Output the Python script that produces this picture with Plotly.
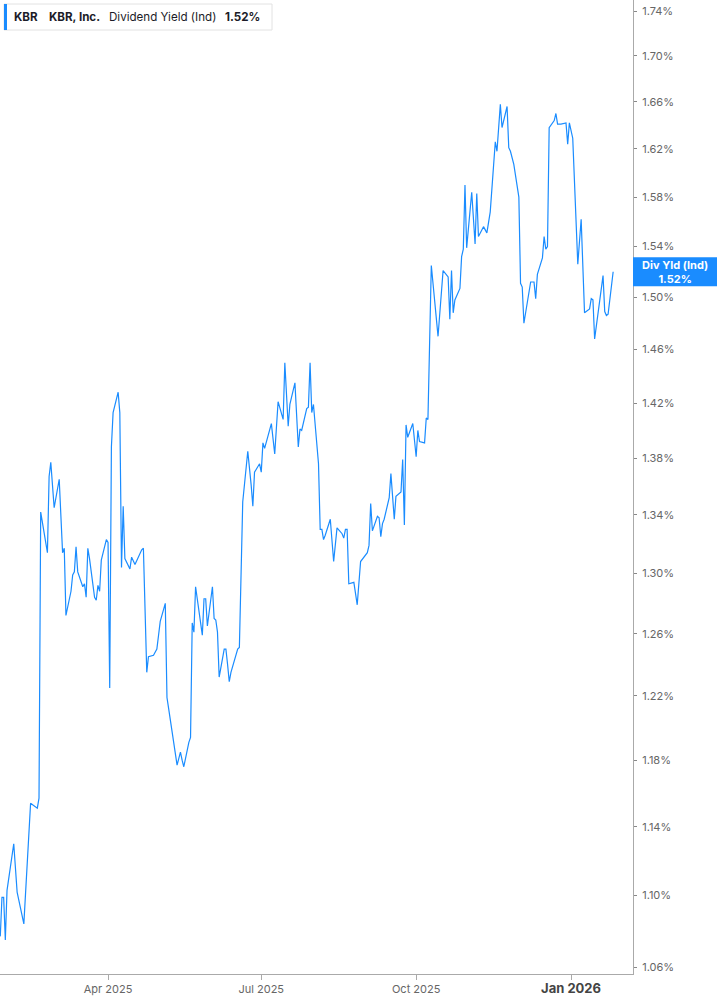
import numpy as np
import plotly.graph_objects as go

# KBR dividend yield (indicated)
dates = [
    "2025-01-27", "2025-01-28", "2025-01-29", "2025-01-30", "2025-01-31", "2025-02-04", "2025-02-06",
    "2025-02-10", "2025-02-14", "2025-02-18", "2025-02-19", "2025-02-20", "2025-02-24", "2025-02-25",
    "2025-02-26", "2025-02-28", "2025-03-03", "2025-03-05", "2025-03-06", "2025-03-07", "2025-03-10",
    "2025-03-11", "2025-03-12", "2025-03-13", "2025-03-14", "2025-03-17", "2025-03-18", "2025-03-19",
    "2025-03-20", "2025-03-21", "2025-03-24", "2025-03-25", "2025-03-26", "2025-03-27", "2025-03-28",
    "2025-03-31", "2025-04-01", "2025-04-02", "2025-04-03", "2025-04-04", "2025-04-07", "2025-04-08",
    "2025-04-09", "2025-04-10", "2025-04-11", "2025-04-14", "2025-04-15", "2025-04-17", "2025-04-21",
    "2025-04-22", "2025-04-24", "2025-04-25", "2025-04-28", "2025-04-29", "2025-04-30", "2025-05-01",
    "2025-05-02", "2025-05-05", "2025-05-06", "2025-05-07", "2025-05-08", "2025-05-09", "2025-05-12",
    "2025-05-13", "2025-05-14", "2025-05-15", "2025-05-16", "2025-05-19", "2025-05-20", "2025-05-21",
    "2025-05-22", "2025-05-23", "2025-05-27", "2025-05-28", "2025-05-29", "2025-05-30", "2025-06-02",
    "2025-06-03", "2025-06-04", "2025-06-05", "2025-06-06", "2025-06-09", "2025-06-10", "2025-06-11",
    "2025-06-12", "2025-06-13", "2025-06-16", "2025-06-17", "2025-06-18", "2025-06-20", "2025-06-23",
    "2025-06-24", "2025-06-25", "2025-06-26", "2025-06-27", "2025-06-30", "2025-07-01", "2025-07-02",
    "2025-07-03", "2025-07-07", "2025-07-08", "2025-07-09", "2025-07-11", "2025-07-14", "2025-07-15",
    "2025-07-16", "2025-07-17", "2025-07-18", "2025-07-21", "2025-07-23", "2025-07-24", "2025-07-25",
    "2025-07-28", "2025-07-29", "2025-07-30", "2025-07-31", "2025-08-01", "2025-08-04", "2025-08-05",
    "2025-08-06", "2025-08-07", "2025-08-08", "2025-08-11", "2025-08-13", "2025-08-15", "2025-08-18",
    "2025-08-19", "2025-08-20", "2025-08-21", "2025-08-22", "2025-08-25", "2025-08-27", "2025-08-29",
    "2025-09-02", "2025-09-03", "2025-09-04", "2025-09-05", "2025-09-08", "2025-09-09", "2025-09-10",
    "2025-09-11", "2025-09-12", "2025-09-15", "2025-09-16", "2025-09-18", "2025-09-19", "2025-09-22",
    "2025-09-23", "2025-09-24", "2025-09-25", "2025-09-26", "2025-09-29", "2025-09-30", "2025-10-01",
    "2025-10-02", "2025-10-03", "2025-10-06", "2025-10-07", "2025-10-08", "2025-10-10", "2025-10-14",
    "2025-10-17", "2025-10-20", "2025-10-21", "2025-10-22", "2025-10-23", "2025-10-24", "2025-10-27",
    "2025-10-28", "2025-10-29", "2025-10-30", "2025-10-31", "2025-11-03", "2025-11-05", "2025-11-06",
    "2025-11-07", "2025-11-10", "2025-11-12", "2025-11-14", "2025-11-17", "2025-11-18", "2025-11-20",
    "2025-11-21", "2025-11-24", "2025-11-25", "2025-11-26", "2025-11-28", "2025-12-01", "2025-12-02",
    "2025-12-03", "2025-12-04", "2025-12-08", "2025-12-10", "2025-12-11", "2025-12-12", "2025-12-15",
    "2025-12-16", "2025-12-17", "2025-12-18", "2025-12-19", "2025-12-22", "2025-12-23", "2025-12-24",
    "2025-12-26", "2025-12-29", "2025-12-30", "2025-12-31", "2026-01-02", "2026-01-05", "2026-01-07",
    "2026-01-09", "2026-01-12", "2026-01-13", "2026-01-14", "2026-01-15", "2026-01-20", "2026-01-21",
    "2026-01-22", "2026-01-23", "2026-01-26",
]
div_yield = [
    1.077, 1.099, 1.099, 1.075, 1.103, 1.130, 1.102,
    1.084, 1.154, 1.151, 1.157, 1.342, 1.314, 1.367,
    1.377, 1.345, 1.365, 1.314, 1.317, 1.272, 1.288,
    1.299, 1.301, 1.318, 1.301, 1.291, 1.293, 1.284,
    1.317, 1.310, 1.284, 1.282, 1.292, 1.288, 1.309,
    1.323, 1.321, 1.225, 1.388, 1.413, 1.428, 1.413,
    1.304, 1.346, 1.310, 1.303, 1.311, 1.306, 1.316,
    1.317, 1.235, 1.245, 1.246, 1.248, 1.250, 1.259,
    1.268, 1.280, 1.219, 1.212, 1.205, 1.199, 1.177,
    1.181, 1.185, 1.180, 1.176, 1.191, 1.194, 1.267,
    1.261, 1.291, 1.259, 1.283, 1.283, 1.265, 1.291,
    1.270, 1.269, 1.261, 1.232, 1.250, 1.250, 1.240,
    1.229, 1.235, 1.246, 1.250, 1.251, 1.349, 1.385,
    1.374, 1.361, 1.346, 1.370, 1.376, 1.370, 1.391,
    1.387, 1.405, 1.395, 1.383, 1.421, 1.408, 1.450,
    1.426, 1.403, 1.419, 1.435, 1.388, 1.401, 1.400,
    1.416, 1.417, 1.450, 1.413, 1.419, 1.376, 1.330,
    1.330, 1.323, 1.326, 1.337, 1.308, 1.331, 1.327,
    1.324, 1.330, 1.330, 1.293, 1.294, 1.279, 1.308,
    1.314, 1.319, 1.348, 1.329, 1.339, 1.338, 1.325,
    1.334, 1.337, 1.352, 1.369, 1.337, 1.353, 1.356,
    1.379, 1.333, 1.404, 1.395, 1.405, 1.393, 1.381,
    1.400, 1.392, 1.391, 1.409, 1.408, 1.525, 1.470,
    1.521, 1.516, 1.483, 1.521, 1.488, 1.498, 1.507,
    1.532, 1.538, 1.590, 1.539, 1.584, 1.542, 1.583,
    1.548, 1.556, 1.551, 1.568, 1.626, 1.618, 1.658,
    1.638, 1.656, 1.621, 1.618, 1.607, 1.580, 1.511,
    1.508, 1.480, 1.512, 1.512, 1.499, 1.518, 1.531,
    1.548, 1.538, 1.540, 1.638, 1.644, 1.650, 1.641,
    1.641, 1.642, 1.624, 1.642, 1.629, 1.526, 1.562,
    1.488, 1.491, 1.499, 1.498, 1.468, 1.517, 1.489,
    1.486, 1.487, 1.520,
]

y_ticks = [1.06, 1.10, 1.14, 1.18, 1.22, 1.26, 1.30, 1.34, 1.38,
           1.42, 1.46, 1.50, 1.54, 1.58, 1.62, 1.66, 1.70, 1.74]
x_ticks = ["2025-04-01", "2025-07-01", "2025-10-01", "2026-01-01"]
x_tick_labels = ["Apr 2025", "Jul 2025", "Oct 2025", "Jan 2026"]

BLUE = "#1a8cff"
W, H = 717, 1005
PLOT_W, PLOT_H = 633, 974  # plot area in px (margins r=84, b=31)

y_lo, y_hi = 1.0562, 1.750
last = div_yield[-1]

fig = go.Figure()
fig.add_trace(go.Scatter(x=dates, y=div_yield, mode="lines",
                         line=dict(color=BLUE, width=1.2), hoverinfo="skip"))

tick_text = [f"<span style='font-size:13px;color:#444'><b>{t}</b></span>" if t.startswith("Jan") else t
             for t in x_tick_labels]

fig.update_layout(
    width=W, height=H,
    margin=dict(l=0, r=W - PLOT_W, t=0, b=H - PLOT_H),
    paper_bgcolor="white", plot_bgcolor="white",
    showlegend=False,
    font=dict(family="Inter, Roboto, sans-serif", color="#555", size=11),
    xaxis=dict(
        type="date", range=["2025-01-26 20:00", "2026-02-06 19:00"],
        tickvals=x_ticks, ticktext=tick_text,
        showgrid=False, zeroline=False,
        showline=True, linecolor="#aaa", linewidth=1,
        ticks="outside", ticklen=5, tickcolor="#aaa",
        tickfont=dict(size=11, color="#666"),
    ),
    yaxis=dict(
        type="log", side="right",
        range=[np.log10(y_lo), np.log10(y_hi)],
        tickvals=y_ticks, ticktext=[f"{v:.2f}%" for v in y_ticks],
        showgrid=False, zeroline=False,
        showline=True, linecolor="#aaa", linewidth=1,
        ticks="outside", ticklen=3, tickcolor="#888",
        ticklabelstandoff=3,
        tickfont=dict(size=11, color="#666"),
    ),
)

# legend box top-left
def px_x(p):
    return p / PLOT_W

def px_y(p):
    return 1 - p / PLOT_H

fig.add_shape(type="rect", xref="paper", yref="paper",
              x0=px_x(4), x1=px_x(272), y0=px_y(30), y1=px_y(4),
              line=dict(color="#e2e2e2", width=1), fillcolor="white")
fig.add_shape(type="rect", xref="paper", yref="paper",
              x0=px_x(4), x1=px_x(7), y0=px_y(30), y1=px_y(4),
              line=dict(width=0), fillcolor=BLUE)

legend_parts = [(12, "<b>KBR</b>"), (47, "<b>KBR, Inc.</b>"),
                (107, "Dividend Yield (Ind)"), (223, f"<b>{last:.2f}%</b>")]
for xp, txt in legend_parts:
    fig.add_annotation(x=px_x(xp), y=px_y(17), xref="paper", yref="paper",
                       text=txt, showarrow=False, xanchor="left", yanchor="middle",
                       font=dict(size=11.6, color="#1c1c28"))

# last value tag on the right axis
frac = (np.log10(last) - np.log10(y_lo)) / (np.log10(y_hi) - np.log10(y_lo))
half = 14.5 / PLOT_H
fig.add_shape(type="rect", xref="paper", yref="paper",
              x0=1.0, x1=W / PLOT_W, y0=frac - half, y1=frac + half,
              line=dict(width=0), fillcolor=BLUE)
fig.add_annotation(x=(1 + W / PLOT_W) / 2, y=frac, xref="paper", yref="paper",
                   text=f"<b>Div Yld (Ind)</b><br><b>{last:.2f}%</b>", showarrow=False,
                   xanchor="center", yanchor="middle",
                   font=dict(size=11, color="white"))

# drop the browser's default body margin so the chart sits flush at the top-left
fig.write_html("out.html", config={"displayModeBar": False},
               post_script="document.body.style.margin='0px';")
